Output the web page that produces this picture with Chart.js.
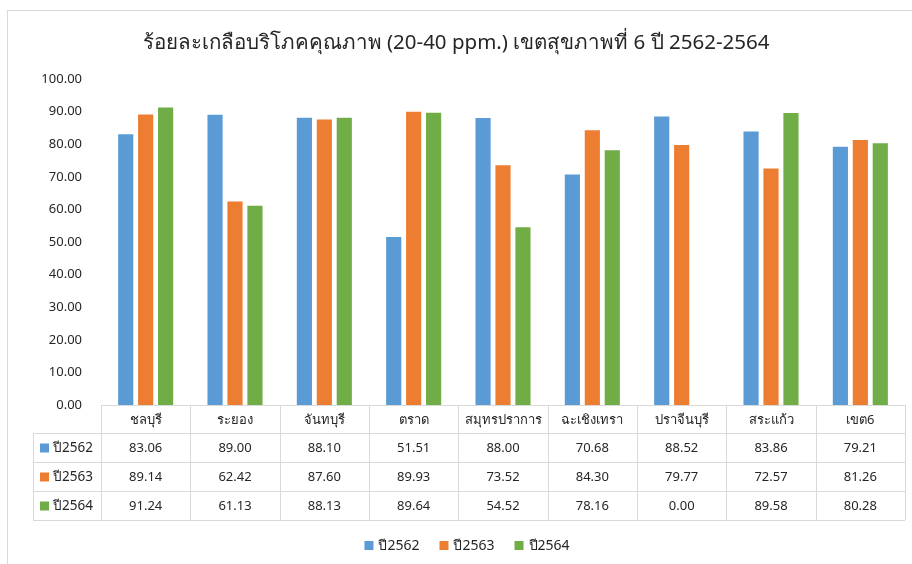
<!DOCTYPE html>
<html>
<head>
<meta charset="utf-8">
<script src="https://cdn.jsdelivr.net/npm/chart.js@4.4.0/dist/chart.umd.min.js"></script>
<style>
  html, body { margin: 0; padding: 0; background: #fff; }
  #wrap { width: 912px; height: 564px; position: relative; }
</style>
</head>
<body>
<div id="wrap"><canvas id="chart"></canvas></div>
<script>
const provinces = ['ชลบุรี', 'ระยอง', 'จันทบุรี', 'ตราด', 'สมุทรปราการ', 'ฉะเชิงเทรา', 'ปราจีนบุรี', 'สระแก้ว', 'เขต6'];
const seriesNames = ['ปี2562', 'ปี2563', 'ปี2564'];
const y2562 = [83.06, 89.00, 88.10, 51.51, 88.00, 70.68, 88.52, 83.86, 79.21];
const y2563 = [89.14, 62.42, 87.60, 89.93, 73.52, 84.30, 79.77, 72.57, 81.26];
const y2564 = [91.24, 61.13, 88.13, 89.64, 54.52, 78.16, 0.00, 89.58, 80.28];
const colors = ['#5B9BD5', '#ED7D31', '#70AD47'];
const titleText = 'ร้อยละเกลือบริโภคคุณภาพ (20-40 ppm.) เขตสุขภาพที่ 6 ปี 2562-2564';

const FONT = "Tahoma, 'Noto Sans', sans-serif";
const TEXT = '#262626';
const LINE = '#d9d9d9';
const allSeries = [y2562, y2563, y2564];

// frame + title
const framePlugin = {
  id: 'frame',
  beforeDraw(chart) {
    const ctx = chart.ctx;
    ctx.save();
    ctx.strokeStyle = LINE;
    ctx.lineWidth = 1;
    ctx.strokeRect(7.5, 10.5, 940, 600);
    ctx.fillStyle = TEXT;
    ctx.font = '20.5px ' + FONT;
    ctx.textAlign = 'center';
    ctx.textBaseline = 'middle';
    ctx.fillText(titleText, chart.width / 2, 43);
    ctx.restore();
  }
};

// data table under the plot, plus the legend row
const tablePlugin = {
  id: 'dataTable',
  afterDraw(chart) {
    const { ctx, chartArea } = chart;
    const left = chartArea.left, right = chartArea.right, top = chartArea.bottom;
    const cw = (right - left) / provinces.length;
    const labelLeft = 33;
    const rows = [top, top + 28, top + 57, top + 86, top + 115];

    ctx.save();
    ctx.strokeStyle = LINE;
    ctx.lineWidth = 1;
    ctx.beginPath();
    ctx.moveTo(left, rows[0] + 0.5); ctx.lineTo(right, rows[0] + 0.5);
    for (let r = 1; r < rows.length; r++) {
      ctx.moveTo(labelLeft, rows[r] + 0.5); ctx.lineTo(right, rows[r] + 0.5);
    }
    for (let i = 0; i <= provinces.length; i++) {
      const xx = Math.round(left + i * cw) + 0.5;
      ctx.moveTo(xx, rows[0]); ctx.lineTo(xx, rows[4]);
    }
    ctx.moveTo(labelLeft + 0.5, rows[1]); ctx.lineTo(labelLeft + 0.5, rows[4]);
    ctx.stroke();

    ctx.fillStyle = TEXT;
    ctx.font = '13px ' + FONT;
    ctx.textAlign = 'center';
    ctx.textBaseline = 'middle';
    provinces.forEach((p, i) => {
      ctx.fillText(p, left + (i + 0.5) * cw, (rows[0] + rows[1]) / 2 + 1);
    });
    allSeries.forEach((vals, s) => {
      const cy = (rows[s + 1] + rows[s + 2]) / 2 + 1;
      vals.forEach((v, i) => {
        ctx.fillText(v.toFixed(2), left + (i + 0.5) * cw, cy);
      });
      ctx.fillStyle = colors[s];
      ctx.fillRect(40, cy - 5, 9, 9);
      ctx.fillStyle = TEXT;
      ctx.textAlign = 'left';
      ctx.font = '13.5px ' + FONT;
      ctx.fillText(seriesNames[s], 53, cy);
      ctx.font = '13px ' + FONT;
      ctx.textAlign = 'center';
    });

    // legend
    ctx.font = '14px ' + FONT;
    ctx.textAlign = 'left';
    const box = 9, gap = 5, itemGap = 20;
    const widths = seriesNames.map(n => box + gap + ctx.measureText(n).width);
    const total = widths.reduce((a, b) => a + b, 0) + itemGap * (seriesNames.length - 1);
    let lx = 467 - total / 2;
    const ly = 546;
    seriesNames.forEach((n, s) => {
      ctx.fillStyle = colors[s];
      ctx.fillRect(lx, ly - 5, box, box);
      ctx.fillStyle = TEXT;
      ctx.fillText(n, lx + box + gap, ly);
      lx += widths[s] + itemGap;
    });
    ctx.restore();
  }
};

new Chart(document.getElementById('chart'), {
  type: 'bar',
  data: {
    labels: provinces,
    datasets: seriesNames.map((name, s) => ({
      label: name,
      data: allSeries[s],
      backgroundColor: colors[s],
      borderWidth: 0,
      categoryPercentage: 0.67,
      barPercentage: 0.76
    }))
  },
  options: {
    responsive: true,
    maintainAspectRatio: false,
    animation: false,
    layout: { padding: { top: 79, left: 0, right: 7, bottom: 0 } },
    plugins: {
      title: { display: false },
      tooltip: { enabled: false },
      legend: { display: false }
    },
    scales: {
      x: {
        grid: { display: false },
        border: { display: false },
        ticks: { display: false },
        afterFit(s) { s.height = 159; }
      },
      y: {
        min: 0, max: 100,
        grid: { display: false },
        border: { display: false },
        ticks: {
          stepSize: 10,
          padding: 11,
          color: TEXT,
          font: { family: FONT, size: 13 },
          callback: v => Number(v).toFixed(2)
        },
        afterFit(s) { s.width = 101; }
      }
    }
  },
  plugins: [framePlugin, tablePlugin]
});
</script>
</body>
</html>
